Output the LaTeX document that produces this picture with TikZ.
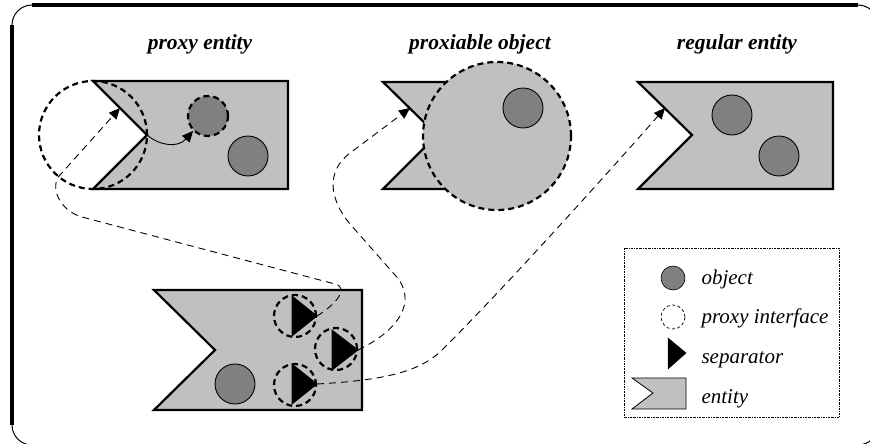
\documentclass[tikz,border=0pt]{standalone}
\usepackage{fontspec}
\setmainfont{Liberation Serif}
\usetikzlibrary{arrows.meta}
\definecolor{entgray}{HTML}{C0C0C0}
\definecolor{objgray}{HTML}{808080}
\begin{document}
\begin{tikzpicture}[x=1pt,y=-1pt,
 entity/.style={draw=black,line width=2.2pt,fill=entgray,line join=miter},
 obj/.style={circle,draw=black,line width=0.9pt,fill=objgray,minimum size=40pt,inner sep=0pt},
 pif/.style={circle,draw=black,line width=2.2pt,dash pattern=on 6pt off 4pt,minimum size=42pt,inner sep=0pt},
 conn/.style={draw=black,line width=0.9pt,dash pattern=on 7pt off 5pt},
 tipend/.style={-{Triangle[length=11pt,width=10pt]}},
 sepmark/.style={fill=black,draw=black,line width=0.8pt,line join=miter},
 titletext/.style={font=\fontsize{21.5}{24}\selectfont\bfseries\itshape,anchor=base},
 legtext/.style={font=\fontsize{21}{24}\selectfont\itshape,anchor=base west}]
\useasboundingbox (0,0) rectangle (870,444);
\clip (0,0) rectangle (870,444);
% frame
\draw[line width=1pt,rounded corners=20pt] (12,5) rectangle (878,445);
\draw[line width=3.2pt] (12,25) -- (12,425);
\draw[line width=3.2pt] (32,5) -- (858,5);

% titles
\node[titletext] (t1) at (200,49) {proxy entity};
\node[titletext] (t2) at (480,49) {proxiable object};
\node[titletext] (t3) at (737,49) {regular entity};

% proxy entity
\draw[entity] (93,81) -- (288,81) -- (288,189) -- (93,189) -- (147,135) -- cycle;
\coordinate (pe-in) at (120,108);
\coordinate (pe-tip) at (147,135);
\node[pif,minimum size=108pt] (pe-if) at (93,135) {};
\node[obj,line width=2.2pt,dash pattern=on 6pt off 4pt] (pe-o1) at (208,116) {};
\node[obj] (pe-o2) at (248,156) {};
\draw[line width=0.9pt,tipend] (pe-tip) .. controls (160,146) and (178,148) .. (pe-o1.225);

% proxiable object
\draw[entity] (383,82) -- (540,82) -- (540,189) -- (383,189) -- (437,135) -- cycle;
\coordinate (po-in) at (410,108);
\node[pif,fill=entgray,minimum size=148pt] (po-c) at (497,136) {};
\node[obj] (po-o1) at (523,108) {};

% regular entity
\draw[entity] (638,82) -- (833,82) -- (833,189) -- (638,189) -- (692,135) -- cycle;
\coordinate (re-in) at (665,108);
\node[obj] (re-o1) at (732,115) {};
\node[obj] (re-o2) at (779,156) {};

% bottom entity
\draw[entity] (154,290) -- (362,290) -- (362,410) -- (154,410) -- (215,350) -- cycle;
\node[obj] (be-o1) at (235,384) {};
\draw[sepmark] (292,296) -- (292,336) -- (317,316) -- cycle;
\draw[sepmark] (332,330) -- (332,370) -- (358,350) -- cycle;
\draw[sepmark] (292,364) -- (292,404) -- (317,384) -- cycle;
\coordinate (s1) at (317,316);
\coordinate (s2) at (358,350);
\coordinate (s3) at (317,384);
\node[pif] (if1) at (295,316) {};
\node[pif] (if2) at (336,349) {};
\node[pif] (if3) at (295,385) {};

% connectors
\coordinate (c1a) at (335,284);
\coordinate (c1b) at (82,217);
\coordinate (c1c) at (60,175);
\draw[conn,tipend] (s1) .. controls (335,305) and (350,288) .. (c1a) -- (c1b)
   .. controls (60,211) and (49,187) .. (c1c) -- (pe-in);
\coordinate (c2a) at (395,275);
\coordinate (c2b) at (350,224);
\coordinate (c2c) at (350,153);
\draw[conn,tipend] (s2) .. controls (400,330) and (418,300) .. (c2a) -- (c2b)
   .. controls (330,200) and (325,172) .. (c2c) -- (po-in);
\coordinate (c3a) at (440,352);
\draw[conn,tipend] (s3) .. controls (390,380) and (420,370) .. (c3a)
   .. controls (500,293) and (615,165) .. (re-in);

% legend
\draw[line width=0.6pt,dash pattern=on 2pt off 1pt on 0.6pt off 1pt] (624,248) rectangle (839,417);
\node[obj,minimum size=24pt,line width=0.6pt] (lg-obj) at (673,278) {};
\node[circle,draw=black,line width=0.7pt,dash pattern=on 3pt off 2.5pt,minimum size=24pt,inner sep=0pt] (lg-pif) at (673,317) {};
\draw[sepmark,line width=0.5pt] (668,338) -- (668,369) -- (686,353) -- cycle;
\draw[entity,line width=0.8pt] (632,378) -- (686,378) -- (686,409) -- (632,409) -- (653,393) -- cycle;
\node[legtext] (l1) at (698,284) {object};
\node[legtext] (l2) at (698,323) {proxy interface};
\node[legtext] (l3) at (698,363) {separator};
\node[legtext] (l4) at (698,403) {entity};
\end{tikzpicture}
\end{document}
